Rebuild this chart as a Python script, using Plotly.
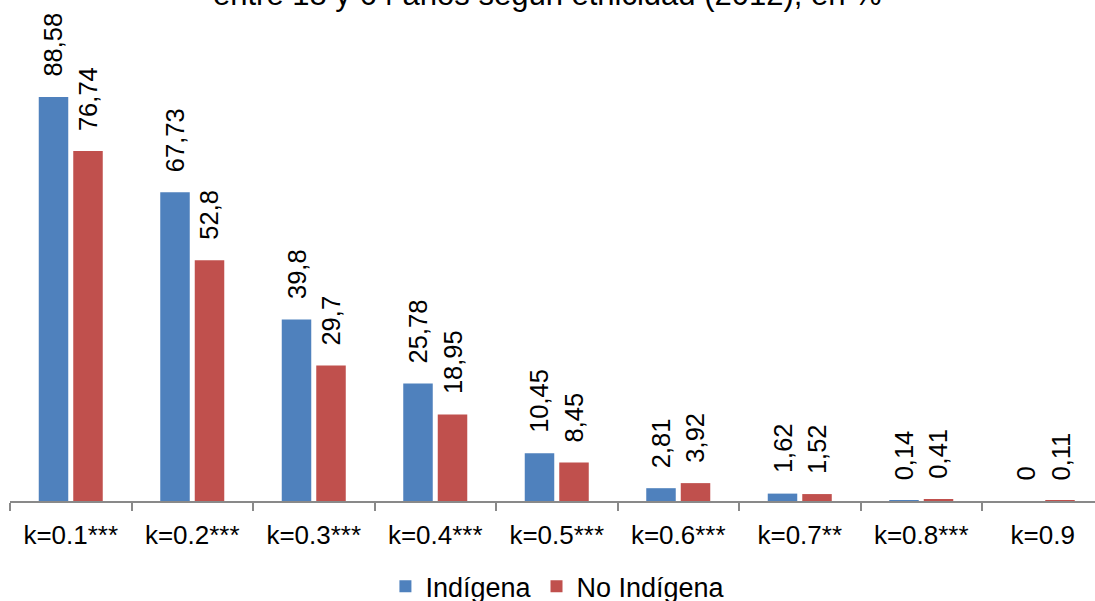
import plotly.graph_objects as go

categories = ["k=0.1***", "k=0.2***", "k=0.3***", "k=0.4***", "k=0.5***",
              "k=0.6***", "k=0.7**", "k=0.8***", "k=0.9"]
indigena = [88.58, 67.73, 39.8, 25.78, 10.45, 2.81, 1.62, 0.14, 0]
no_indigena = [76.74, 52.8, 29.7, 18.95, 8.45, 3.92, 1.52, 0.41, 0.11]
series_names = ["Indígena", "No Indígena"]
title_text = "entre 18 y 64 años según etnicidad (2012), en %"

BLUE = "#4F81BD"
RED = "#C0504D"
FONT = "Liberation Sans, Arial, sans-serif"
BARGAP = 0.432
OFFSET = (1 - BARGAP) / 4


def fmt(v):
    return f"{v:g}".replace(".", ",")


fig = go.Figure()
fig.add_trace(go.Bar(x=categories, y=indigena, name=series_names[0],
                     marker=dict(color=BLUE, line=dict(width=0))))
fig.add_trace(go.Bar(x=categories, y=no_indigena, name=series_names[1],
                     marker=dict(color=RED, line=dict(width=0))))

annotations = []
for i, (a, b) in enumerate(zip(indigena, no_indigena)):
    for val, off in ((a, -OFFSET), (b, OFFSET)):
        annotations.append(dict(
            x=i + off, y=val, xref="x", yref="y", text=fmt(val),
            textangle=-90, showarrow=False, xanchor="center", yanchor="bottom",
            yshift=18, xshift=0, font=dict(size=25.5, color="black", family=FONT)))

annotations.append(dict(
    x=0.495, y=1, xref="paper", yref="paper", text=title_text,
    showarrow=False, xanchor="center", yanchor="bottom", yshift=31,
    font=dict(size=31, color="black", family=FONT)))

fig.update_layout(
    width=1095, height=601, autosize=False,
    margin=dict(l=10, r=0, t=45, b=100, pad=0),
    paper_bgcolor="white", plot_bgcolor="white",
    barmode="group", bargap=BARGAP, bargroupgap=0.145,
    font=dict(family=FONT, size=26, color="black"),
    showlegend=True,
    legend=dict(orientation="h", x=0.505, xanchor="center",
                yref="container", y=0.024, yanchor="middle",
                font=dict(size=27, color="black", family=FONT),
                traceorder="normal", itemwidth=30),
    annotations=annotations,
)
fig.update_xaxes(
    type="category", range=[-0.5, 8.43], showline=True, linecolor="#898989",
    linewidth=1.5, ticks="outside", ticklen=8, tickwidth=1.5, tickcolor="#898989",
    tickson="boundaries", showgrid=False, zeroline=False,
    tickfont=dict(size=26, color="black", family=FONT), ticklabelstandoff=10,
)
fig.update_yaxes(visible=False, range=[0, 100], showgrid=False, zeroline=False)

fig.write_html("out.html", config={"displayModeBar": False},
               post_script="document.body.style.margin='0px';")
